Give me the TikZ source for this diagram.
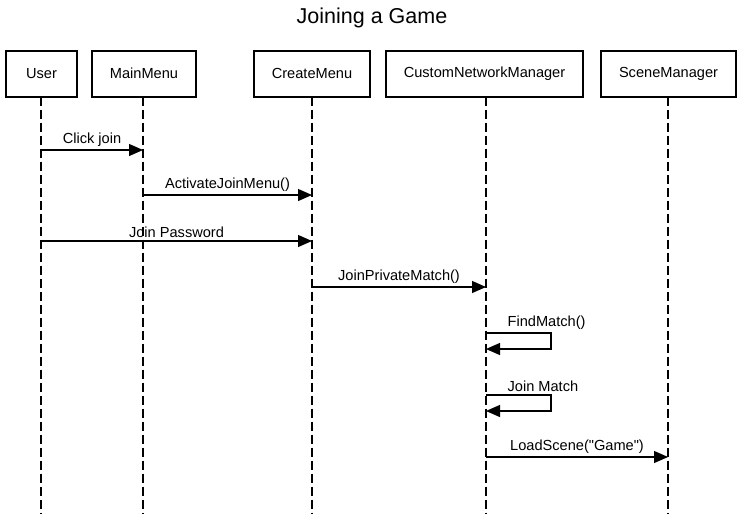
\documentclass[tikz,border=0pt]{standalone}
\usepackage{fontspec}
\setmainfont{Liberation Sans}
\usetikzlibrary{arrows.meta}
\begin{document}
\begin{tikzpicture}[x=1pt,y=-1pt,
  actor/.style={draw, line width=2pt, minimum height=46pt, inner sep=0pt, font=\fontsize{14.6}{16}\selectfont},
  life/.style={dash pattern=on 9pt off 4pt, line width=1.1pt},
  msg/.style={line width=1.2pt, -{Triangle[length=14pt,width=12pt]}},
  lbl/.style={font=\fontsize{14.6}{16}\selectfont, inner sep=1pt}]
\useasboundingbox (0,0) rectangle (743,514);
\node[font=\fontsize{21.5}{24}\selectfont] (title) at (372,18) {Joining a Game};
\node[actor, minimum width=71pt] (user) at (41.5,73.5) {User};
\node[actor, minimum width=104pt] (main) at (144,73.5) {MainMenu};
\node[actor, minimum width=116pt] (create) at (312,73.5) {CreateMenu};
\node[actor, minimum width=197pt] (cnm) at (484.5,73.5) {CustomNetworkManager};
\node[actor, minimum width=135pt] (scene) at (668.5,73.5) {SceneManager};
% lifelines
\coordinate (uT) at (41,96.5);   \coordinate (uB) at (41,514);
\coordinate (mT) at (143,96.5);  \coordinate (mB) at (143,514);
\coordinate (cT) at (312,96.5);  \coordinate (cB) at (312,514);
\coordinate (nT) at (486,96.5);  \coordinate (nB) at (486,514);
\coordinate (sT) at (668,96.5);  \coordinate (sB) at (668,514);
\foreach \a/\b in {uT/uB,mT/mB,cT/cB,nT/nB,sT/sB}
  \draw[life] (\a) -- (\b);
% message points
\coordinate (m1a) at (41,150);  \coordinate (m1b) at (143,150);
\coordinate (m2a) at (143,195); \coordinate (m2b) at (312,195);
\coordinate (m3a) at (41,241);  \coordinate (m3b) at (312,241);
\coordinate (m4a) at (312,287); \coordinate (m4b) at (486,287);
\coordinate (f1) at (486,333);  \coordinate (f2) at (486,349);
\coordinate (j1) at (486,395);  \coordinate (j2) at (486,411);
\coordinate (m7a) at (486,457); \coordinate (m7b) at (668,457);
\draw[msg] (m1a) -- node[lbl, above=2pt] {Click join} (m1b);
\draw[msg] (m2a) -- node[lbl, above=2pt] {ActivateJoinMenu()} (m2b);
\draw[msg] (m3a) -- node[lbl, above=2pt] {Join Password} (m3b);
\draw[msg] (m4a) -- node[lbl, above=2pt] {JoinPrivateMatch()} (m4b);
\draw[msg] (f1) node[lbl, anchor=south west, xshift=20pt, yshift=2pt] {FindMatch()} -- ++(65,0) -- ++(0,16) -- (f2);
\draw[msg] (j1) node[lbl, anchor=south west, xshift=20pt, yshift=2pt] {Join Match} -- ++(65,0) -- ++(0,16) -- (j2);
\draw[msg] (m7a) -- node[lbl, above=2pt] {LoadScene(\textquotedbl Game\textquotedbl)} (m7b);
\end{tikzpicture}
\end{document}
